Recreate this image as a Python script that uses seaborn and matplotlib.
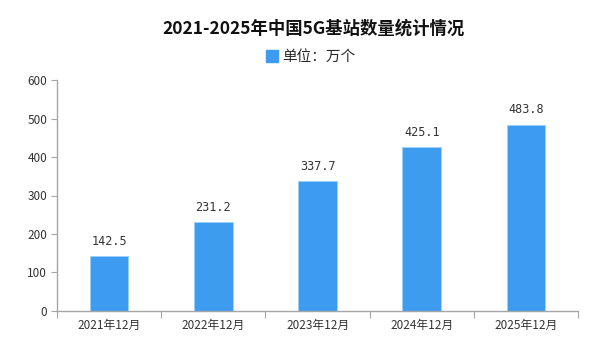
import matplotlib
matplotlib.use("Agg")
import matplotlib.pyplot as plt
import seaborn as sns
import pandas as pd
from matplotlib.patches import Patch
from matplotlib.ticker import FixedLocator

categories = ["2021年12月", "2022年12月", "2023年12月", "2024年12月", "2025年12月"]
values = [142.5, 231.2, 337.7, 425.1, 483.8]
yticks = [0, 100, 200, 300, 400, 500, 600]
title = "2021-2025年中国5G基站数量统计情况"
legend_label = "单位：万个"

sns.set_theme(style="white")
plt.rcParams['font.family'] = ['Noto Sans CJK SC', 'DejaVu Sans']

BAR = "#3D9CF0"
AX = "#A6A6A6"

df = pd.DataFrame({"cat": categories, "val": values})

fig = plt.figure(figsize=(6.15, 3.4), dpi=100)
ax = fig.add_axes([0.0927, 0.0853, 0.8473, 0.6794])

sns.barplot(data=df, x="cat", y="val", color=BAR, width=0.37, ax=ax,
            saturation=1, edgecolor="#9ED0FA", linewidth=0.6)

ax.set_xlim(-0.5, len(categories) - 0.5)
ax.set_ylim(0, 600)
ax.set_yticks(yticks)
ax.set_yticklabels([str(t) for t in yticks], fontsize=8.5, color="#333333")
ax.set_xlabel("")
ax.set_ylabel("")

# category labels at centers (minor), ticks at boundaries (major)
ax.xaxis.set_major_locator(FixedLocator([i - 0.5 for i in range(len(categories) + 1)]))
ax.set_xticklabels([""] * (len(categories) + 1))
ax.xaxis.set_minor_locator(FixedLocator(list(range(len(categories)))))
ax.set_xticklabels(categories, minor=True, fontsize=8.5, color="#333333")
ax.tick_params(axis="x", which="major", direction="out", length=5, color=AX, width=0.8, bottom=True)
ax.tick_params(axis="x", which="minor", length=0, pad=6, bottom=True)
ax.tick_params(axis="y", direction="out", length=4, color=AX, width=0.8, pad=3, left=True)

for s in ["top", "right"]:
    ax.spines[s].set_visible(False)
for s in ["left", "bottom"]:
    ax.spines[s].set_color(AX)
    ax.spines[s].set_linewidth(1.0)

for i, v in enumerate(values):
    ax.text(i, v + 22, f"{v:.1f}", ha="center", va="bottom", fontsize=8.5,
            color="#333333", family=['DejaVu Sans Mono'])

fig.text(0.51, 0.915, title, ha="center", va="center", fontsize=12.5,
         fontweight="bold", color="#111111")
fig.legend(handles=[Patch(facecolor=BAR, edgecolor=BAR)], labels=[legend_label],
           loc="center", bbox_to_anchor=(0.505, 0.832), frameon=False, fontsize=10.5,
           handlelength=0.8, handleheight=0.8, handletextpad=0.3)

fig.savefig("out.png", dpi=100)
